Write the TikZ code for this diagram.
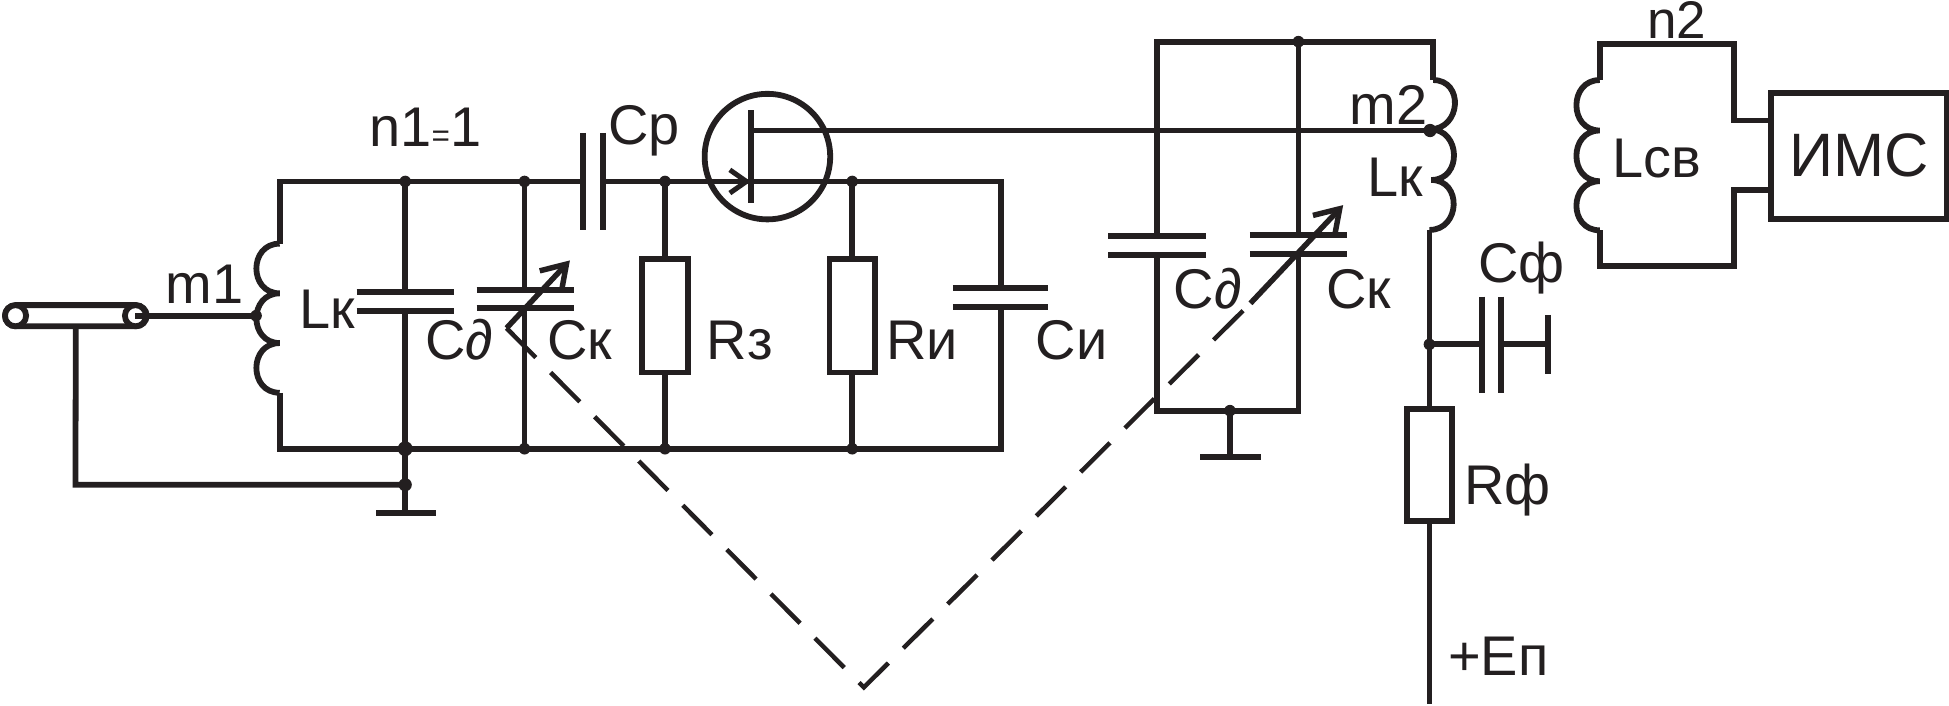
\documentclass[tikz,border=0pt]{standalone}
\usepackage{fontspec}
\setmainfont{Liberation Sans}
\usetikzlibrary{arrows.meta}
\definecolor{ink}{HTML}{231F20}
\tikzset{
  wire/.style={draw=ink,line width=3.5pt},
  plate/.style={draw=ink,line width=3.7pt},
  link/.style={draw=ink,line width=2.7pt,dash pattern=on 25pt off 12.7pt},
  tuner/.style={draw=ink,line width=3.3pt,-{Straight Barb[length=14pt,width=18pt]}},
  res/.style={draw=ink,line width=3.5pt,fill=white,inner sep=0,outer sep=0,minimum width=27.5pt,minimum height=68.5pt},
  lab/.style={inner sep=0,anchor=base west,text=ink,font=\fontsize{33.75}{36}\selectfont},
  dot/.style={fill=ink,circle,inner sep=0,minimum size=#1},
  dot/.default=7pt
}
% bumps of a coil, the fifth argument is the bulge
\newcommand{\coilpath}[5]{\draw[wire] (#1) .. controls +(#5,0) and +(#5,0) .. (#2) .. controls +(#5,0) and +(#5,0) .. (#3) .. controls +(#5,0) and +(#5,0) .. (#4);}
\begin{document}
\begin{tikzpicture}[x=0.75pt,y=0.75pt,yscale=-1,xscale=1]
\useasboundingbox (0,0) rectangle (1568,567.2);

% input loop
\node[draw=ink,line width=3.5pt,rectangle,rounded corners=6.4pt,inner sep=0,outer sep=0,minimum width=85.5pt,minimum height=12.8pt] (coax) at (61,254) {};
\coordinate (coaxl) at (12.5,254);
\coordinate (coaxr) at (109,254);
\draw[wire,fill=white] (coaxl) circle (8.5);
\draw[wire,fill=white] (coaxr) circle (8.5);
\coordinate (tap1) at (206,254);
\draw[wire] (coaxr) -- (tap1);

\coordinate (tl) at (225,146);
\coordinate (bl) at (225,361);
\coordinate (ca1) at (225,196);
\coordinate (ca2) at (225,236);
\coordinate (ca3) at (225,276);
\coordinate (ca4) at (225,316);
\coilpath{ca1}{ca2}{ca3}{ca4}{-25}

\coordinate (cpl) at (469,146);
\coordinate (cpr) at (485,146);
\coordinate (tr) at (805,146);
\coordinate (br) at (805,361);
\draw[wire] (cpl) -- (tl) -- (ca1);
\draw[wire] (ca4) -- (bl) -- (br) -- (805,246.7);
\draw[wire] (805,231.7) -- (tr) -- (cpr);
\draw[plate] (469,107) -- (469,185);
\draw[plate] (485,107) -- (485,185);
\draw[plate] (766.5,231.7) -- (843,231.7);
\draw[plate] (766.5,246.7) -- (843,246.7);

% capacitors of the input circuit
\coordinate (t2) at (326,146);
\coordinate (b2) at (326,361);
\coordinate (g1) at (326,390);
\coordinate (e1) at (326,412.5);
\draw[wire] (t2) -- (326,235);
\draw[wire] (326,250) -- (b2) -- (g1) -- (e1);
\draw[plate] (287,235) -- (365,235);
\draw[plate] (287,250) -- (365,250);
\draw[plate] (302.5,412.5) -- (351,412.5);

\coordinate (t3) at (422,146);
\coordinate (b3) at (422,361);
\draw[wire] (t3) -- (422,233);
\draw[wire] (422,248) -- (b3);
\draw[plate] (383.5,233) -- (462,233);
\draw[plate] (383.5,248) -- (462,248);

\draw[wire] (coax.south) -- (60.7,390) -- (g1);

% resistors
\coordinate (t4) at (535,146);
\coordinate (b4) at (535,361);
\node[res] (rz) at (535,254) {};
\draw[wire] (t4) -- (rz);
\draw[wire] (rz) -- (b4);
\coordinate (t5) at (685.6,146);
\coordinate (b5) at (685.6,361);
\node[res] (ri) at (685.6,254) {};
\draw[wire] (t5) -- (ri);
\draw[wire] (ri) -- (b5);

% transistor
\coordinate (q) at (617.4,126);
\draw[wire] (q) circle (50.5);
\coordinate (gate) at (604,105);
\coordinate (src) at (604,146);
\draw[wire] (604,88.5) -- (604,163.5);
\draw[line width=3pt,draw=ink,-{Straight Barb[length=10pt,width=14pt]}] (560,146) -- (src);

% output circuit
\coordinate (tl2) at (930.6,33.5);
\coordinate (tm2) at (1044.6,33.5);
\coordinate (tr2) at (1153,33.5);
\coordinate (bl2) at (930.6,330.4);
\coordinate (bm2) at (1044.6,330.4);
\coordinate (g2) at (989.5,330.4);
\coordinate (e2) at (989.5,368);
\coordinate (cb1) at (1153,64.4);
\coordinate (cb2) at (1150.5,104);
\coordinate (cb3) at (1151.5,144.8);
\coordinate (cb4) at (1150,185);
\draw[wire] (cb1) -- (tr2) -- (tl2) -- (930.6,190);
\draw[wire] (930.6,205) -- (bl2) -- (bm2) -- (1044.6,204);
\draw[wire] (tm2) -- (1044.6,189);
\draw[plate] (891.5,190) -- (970,190);
\draw[plate] (891.5,205) -- (970,205);
\draw[plate] (1005.5,189) -- (1084,189);
\draw[plate] (1005.5,204) -- (1084,204);
\draw[wire] (g2) -- (e2);
\draw[plate] (965.5,368) -- (1014.5,368);
\coilpath{cb1}{cb2}{cb3}{cb4}{25}
\coordinate (tap2) at (1150.5,105);
\draw[wire] (gate) -- (tap2);

% tuning link
\coordinate (tail1) at (407.5,264);
\coordinate (head1) at (458.5,209.5);
\coordinate (apex) at (695,553);
\coordinate (tail2) at (1006,244);
\coordinate (head2) at (1080.6,165);
\draw[link] (tail1) -- (apex) -- (tail2);
\draw[tuner] (tail1) -- (head1);
\draw[tuner] (tail2) -- (head2);

% supply line
\node[res,minimum width=27pt,minimum height=67.5pt] (rf) at (1150,374) {};
\coordinate (j1) at (1150,277);
\coordinate (vcc) at (1150,566);
\draw[wire] (cb4) -- (rf);
\draw[wire] (rf) -- (vcc);
\draw[wire] (j1) -- (1192.5,277);
\draw[wire] (1207.3,277) -- (1245.6,277);
\draw[plate] (1192.5,238.7) -- (1192.5,316);
\draw[plate] (1207.3,238.7) -- (1207.3,316);
\draw[plate] (1245.6,253.4) -- (1245.6,301);

% coupling coil and chip
\node[draw=ink,line width=3.5pt,inner sep=0,outer sep=0,minimum width=106pt,minimum height=76pt,text=ink,font=\fontsize{37}{39}\selectfont] (ims) at (1495.5,125.2) {ИМС};
\coordinate (cc1) at (1287,64.4);
\coordinate (cc2) at (1287,105);
\coordinate (cc3) at (1287,145.8);
\coordinate (cc4) at (1287,185.3);
\coordinate (lt) at (1287,35.4);
\coordinate (lb) at (1287,214);
\coordinate (rt) at (1395,35.4);
\coordinate (rb) at (1395,214);
\coordinate (pa) at (1395,97);
\coordinate (pb) at (1395,152.7);
\coilpath{cc1}{cc2}{cc3}{cc4}{-25}
\draw[wire] (cc1) -- (lt) -- (rt) -- (pa) -- (pa -| ims.west);
\draw[wire] (cc4) -- (lb) -- (rb) -- (pb) -- (pb -| ims.west);

% dots
\foreach \p in {t2,t3,t4,t5,b3,b4,b5,tm2,g2,tap1,j1}
  \node[dot] at (\p) {};
\node[dot=9pt] at (b2) {};
\node[dot=8pt] at (g1) {};
\node[dot=8pt] at (tap2) {};

% labels
\node[lab] (lm1) at (133,244) {m1};
\node[lab] (llk1) at (241,264) {Lк};
\node[lab] (ln1) at (297,118) {n1{\fontsize{19}{20}\selectfont=}1};
\node[lab] (lcr) at (489,116) {Ср};
\node[lab] (lcd1) at (342,289) {С{\itshape ∂}};
\node[lab] (lck1) at (440,289) {Ск};
\node[lab] (lrz) at (568.5,289.6) {Rз};
\node[lab] (lri) at (713,289.6) {Rи};
\node[lab] (lci) at (833,289.6) {Си};
\node[lab] (lcd2) at (944,248) {С{\itshape ∂}};
\node[lab] (lck2) at (1066.8,248) {Ск};
\node[lab] (lm2) at (1085.5,99.8) {m2};
\node[lab] (llk2) at (1099.5,157.7) {Lк};
\node[lab] (lcf) at (1189,227.4) {Сф};
\node[lab] (lrf) at (1177.8,405.9) {Rф};
\node[lab] (lep) at (1164.7,543.4) {+Еп};
\node[lab,font=\fontsize{32}{34}\selectfont] (ln2) at (1325,31) {n2};
\node[lab] (llsv) at (1297,142.9) {Lсв};

\end{tikzpicture}
\end{document}
